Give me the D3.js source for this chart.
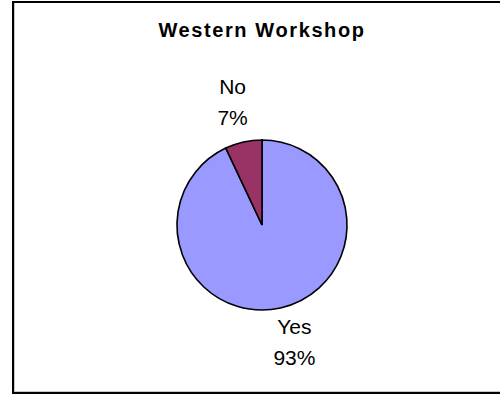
<!DOCTYPE html>
<html>
<head>
<meta charset="utf-8">
<script src="https://cdn.jsdelivr.net/npm/d3@7"></script>
<style>
  body { margin: 0; background: #fff; }
  svg { display: block; }
</style>
</head>
<body>
<div id="chart"></div>
<script>
// chart data
const categories = ['Yes', 'No'];
const values = [93, 7];
const colors = ['#9999FF', '#993366'];
const title = 'Western Workshop';

const width = 500;
const height = 394;
const cx = 262, cy = 225;
const r = 85;

const svg = d3.select('#chart')
  .append('svg')
  .attr('width', width)
  .attr('height', height);

// chart area border (right edge runs off the page)
svg.append('rect')
  .attr('x', 14.5)
  .attr('y', 2.5)
  .attr('width', 500)
  .attr('height', 389)
  .attr('fill', 'none')
  .attr('stroke', '#c8c8c8')
  .attr('stroke-width', 1);

svg.append('rect')
  .attr('x', 13)
  .attr('y', 2)
  .attr('width', 500)
  .attr('height', 391)
  .attr('fill', 'none')
  .attr('stroke', '#000')
  .attr('stroke-width', 2);

// title
svg.append('text')
  .attr('x', 262)
  .attr('y', 36.5)
  .attr('text-anchor', 'middle')
  .style('font-family', 'Liberation Sans, Arial, sans-serif')
  .style('font-weight', 'bold')
  .style('font-size', '20px')
  .style('letter-spacing', '1.6px')
  .text(title);

const data = categories.map((c, i) => ({ name: c, value: values[i], color: colors[i] }));

const pie = d3.pie()
  .sort(null)
  .value(d => d.value);

const arc = d3.arc()
  .innerRadius(0)
  .outerRadius(r);

const labelArc = d3.arc()
  .innerRadius(121)
  .outerRadius(121);

const g = svg.append('g')
  .attr('transform', `translate(${cx},${cy})`);

const arcs = pie(data);

g.selectAll('path')
  .data(arcs)
  .join('path')
  .attr('d', arc)
  .attr('fill', d => d.data.color)
  .attr('stroke', '#000')
  .attr('stroke-width', 1.6)
  .attr('stroke-linejoin', 'miter');

// data labels: category + percent
const total = d3.sum(values);
const labels = g.selectAll('text.lbl')
  .data(arcs)
  .join('text')
  .attr('class', 'lbl')
  .attr('text-anchor', 'middle')
  .style('font-family', 'Liberation Sans, Arial, sans-serif')
  .style('font-size', '21px')
  .style('fill', '#000')
  .attr('transform', d => {
    const [x, y] = labelArc.centroid(d);
    const dx = x > 0 ? 6 : -3;
    const dy = y > 0 ? -1 : -5;
    return `translate(${x + dx},${y + dy})`;
  });

labels.append('tspan')
  .attr('x', 0)
  .attr('y', -8)
  .text(d => d.data.name);

labels.append('tspan')
  .attr('x', 0)
  .attr('y', 23)
  .text(d => Math.round(d.data.value / total * 100) + '%');
</script>
</body>
</html>
